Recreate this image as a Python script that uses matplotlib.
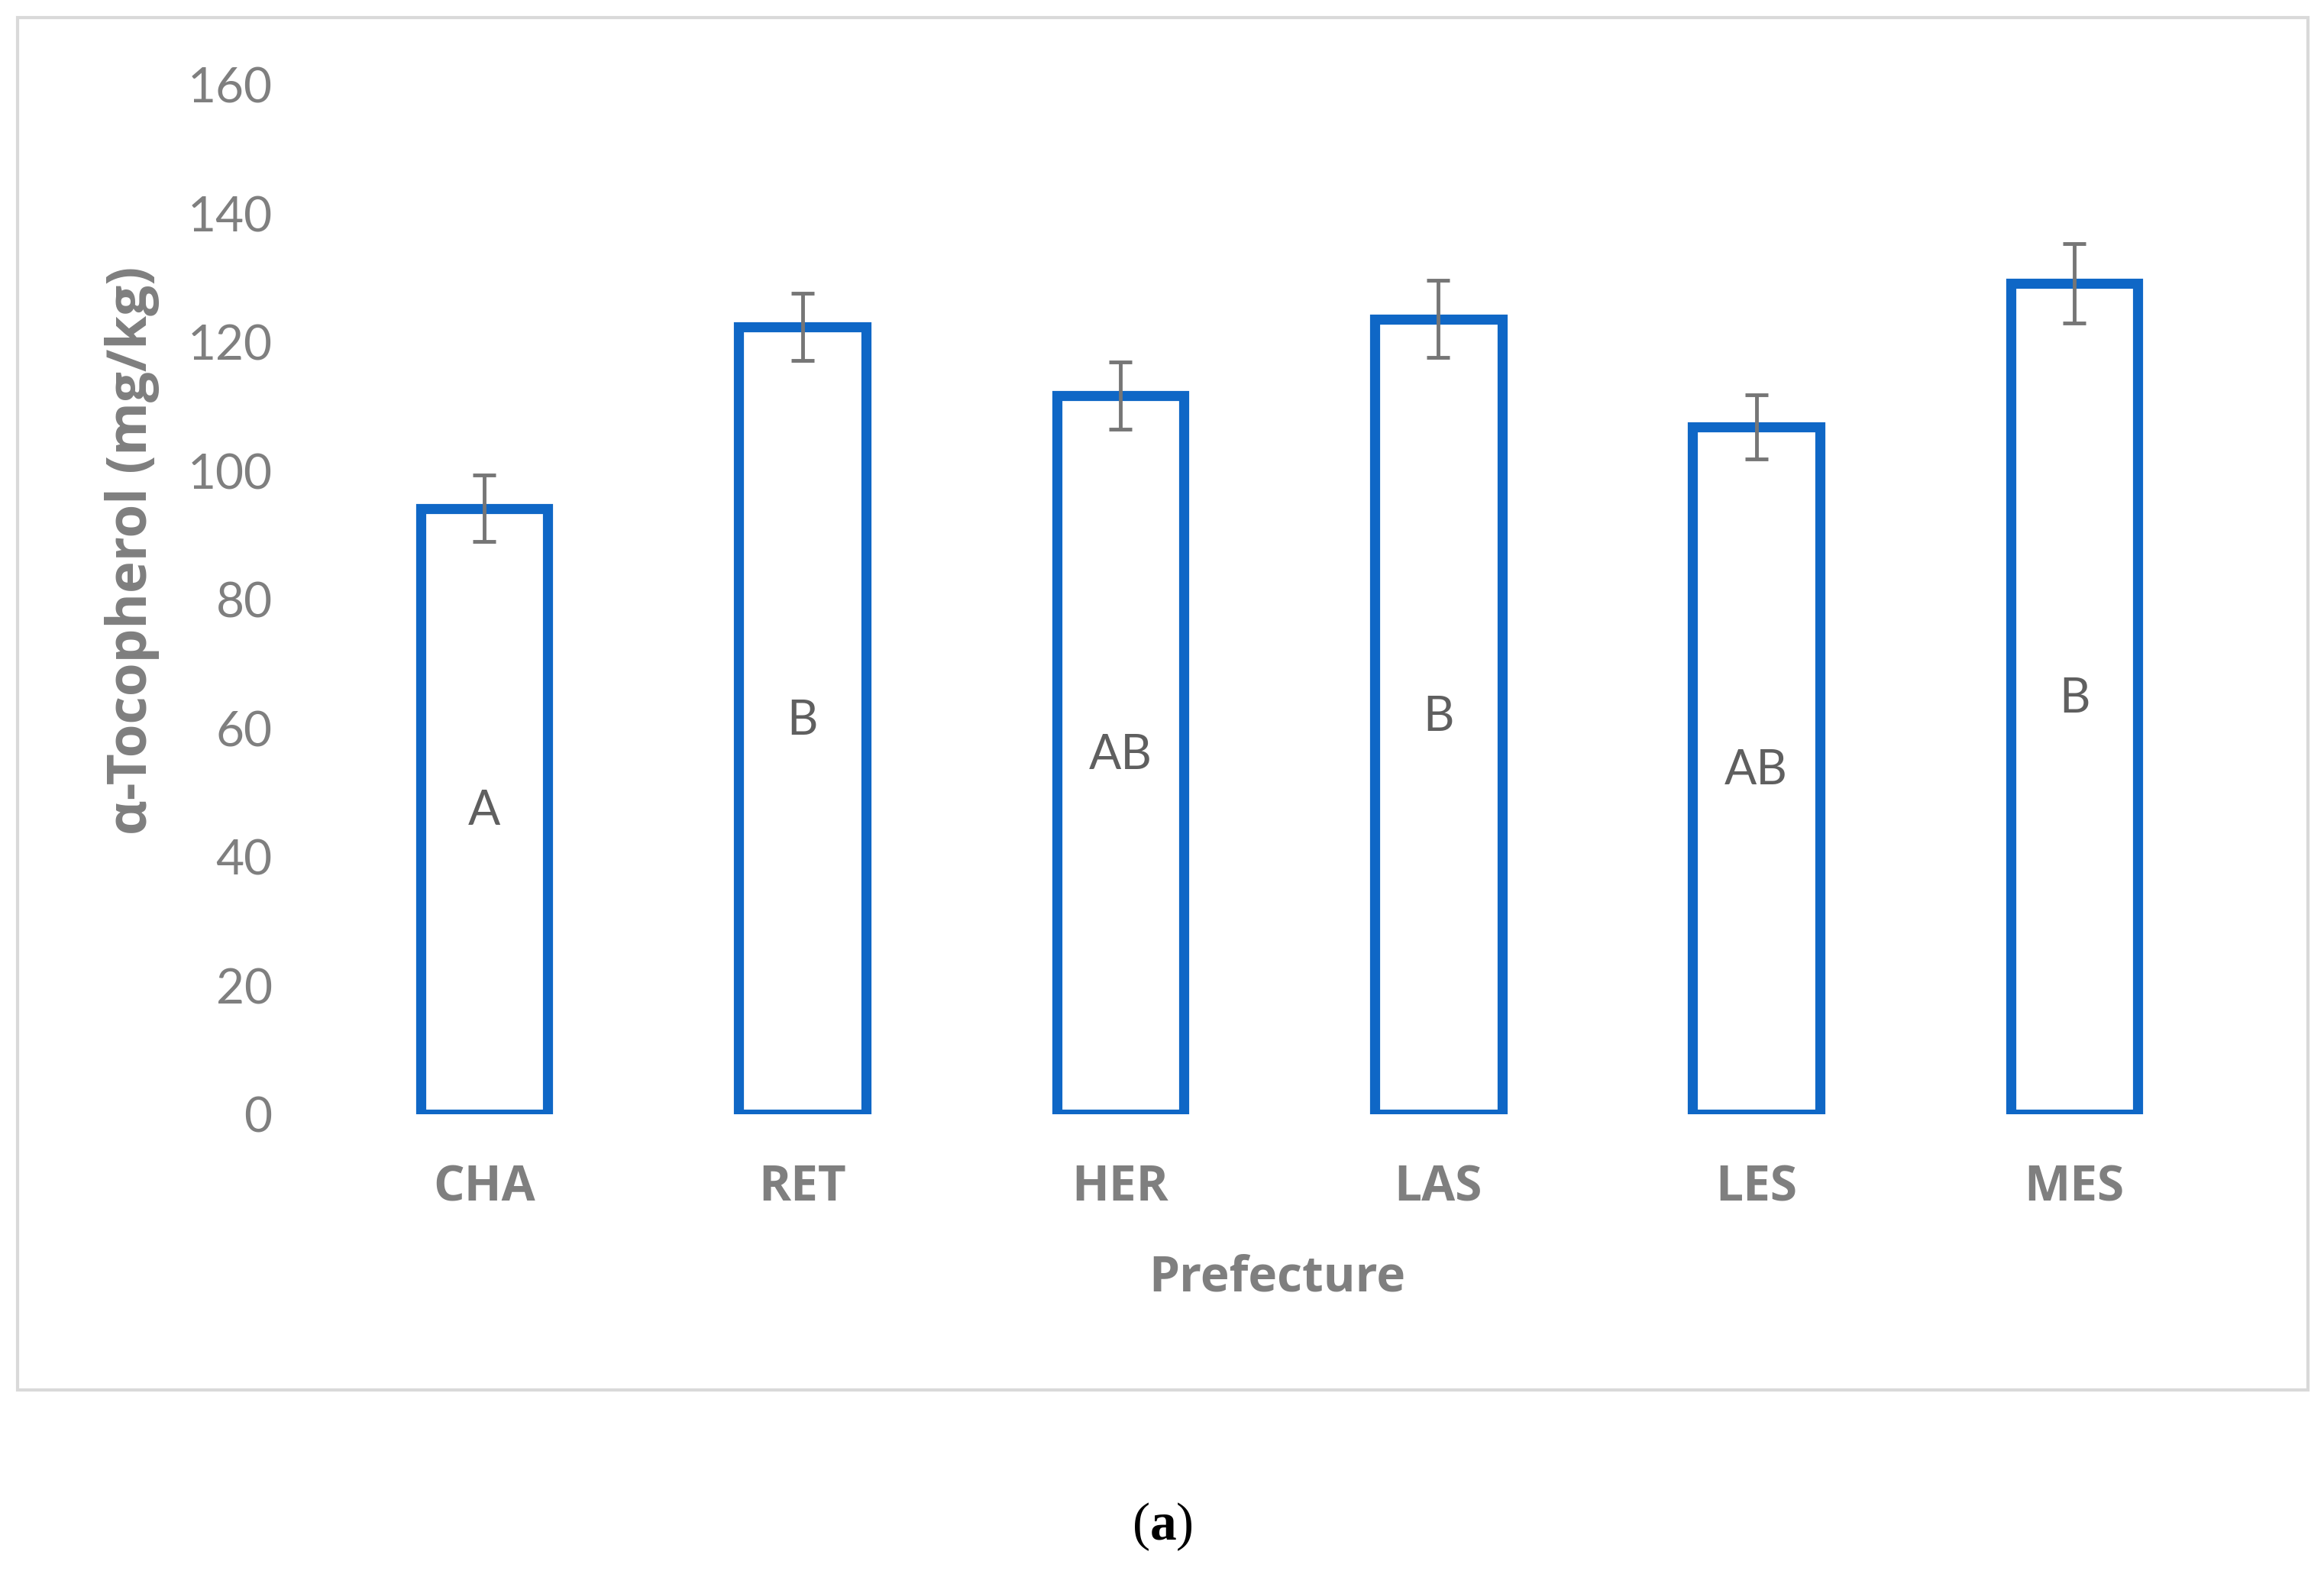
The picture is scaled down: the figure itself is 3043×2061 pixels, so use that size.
"""alpha-Tocopherol content by prefecture."""

import matplotlib
matplotlib.use("Agg")
import matplotlib.pyplot as plt
from matplotlib.patches import Rectangle

prefectures = ["CHA", "RET", "HER", "LAS", "LES", "MES"]
tocopherol = [94.2, 122.4, 111.7, 123.6, 106.9, 129.2]
errors = [5.2, 5.2, 5.2, 6.0, 5.0, 6.2]
groups = ["A", "B", "AB", "B", "AB", "B"]
yticks = [0, 20, 40, 60, 80, 100, 120, 140, 160]

plt.rcParams["mathtext.fontset"] = "custom"
plt.rcParams["mathtext.bf"] = "Liberation Serif:bold"
plt.rcParams["mathtext.rm"] = "Liberation Serif"

blue = "#0F67C6"
gray = "#7F7F7F"

fig = plt.figure(figsize=(30.43, 20.61), dpi=100)
ax = fig.add_axes([0.140, 0.292, 0.821, 0.654])

x = range(len(prefectures))
ax.bar(x, tocopherol, width=0.4, facecolor="white", edgecolor=blue,
       linewidth=9.5)
ax.errorbar(x, tocopherol, yerr=errors, fmt="none", ecolor="#767676",
            elinewidth=3.5, capsize=11, capthick=3.5)

for i, (v, g) in enumerate(zip(tocopherol, groups)):
    ax.text(i, v / 2, g, ha="center", va="center", fontsize=45,
            family="Lato", color="#5f5f5f")

ax.set_xlim(-0.5, len(prefectures) - 0.5)
ax.set_ylim(0, 160)
ax.set_yticks(yticks)
ax.set_xticks(list(x))
ax.set_xticklabels(prefectures, fontsize=46, fontweight="bold",
                   family="Open Sans", color=gray)
ax.tick_params(axis="x", length=0, pad=46)
ax.tick_params(axis="y", length=0, pad=50, labelsize=46, labelcolor=gray)
for lab in ax.get_yticklabels():
    lab.set_family("Lato")
for s in ax.spines.values():
    s.set_visible(False)

ax.set_ylabel("α-Tocopherol (mg/kg)", fontsize=51, fontweight="bold",
              family="Open Sans", color=gray)
ax.yaxis.set_label_coords(-0.087, 0.548)
fig.text(0.5497, 0.188, "Prefecture", ha="center", va="center", fontsize=46,
         fontweight="bold", family="Open Sans", color=gray)

# chart frame
fig.patches.append(Rectangle((0.0076, 0.117), 0.9854, 0.872,
                             transform=fig.transFigure, fill=False,
                             edgecolor="#D9D9D9", linewidth=3))

fig.text(0.5, 0.030, r"($\mathbf{a}$)", ha="center", va="center",
         fontsize=50, family="Liberation Serif", color="black")

fig.savefig("out.png", dpi=100)
